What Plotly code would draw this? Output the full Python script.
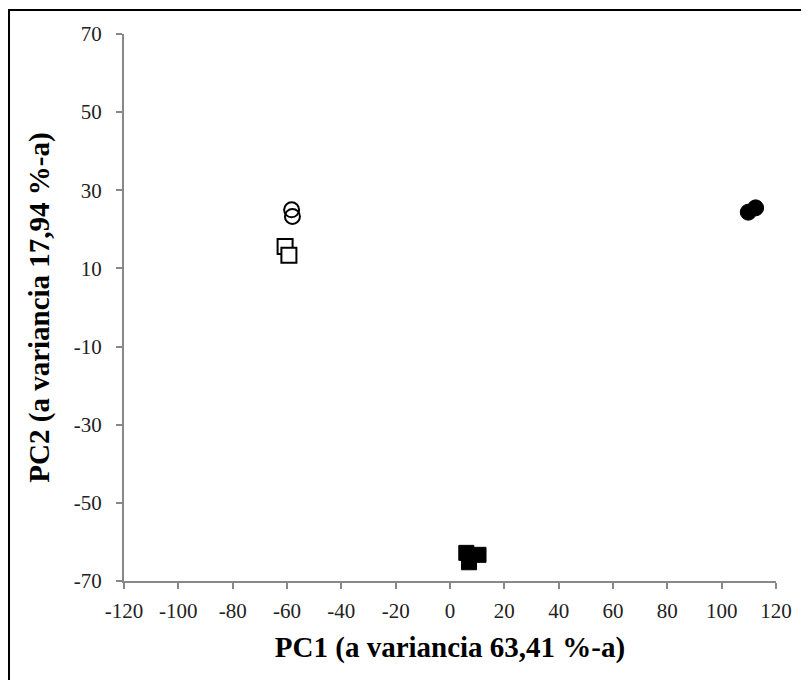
import plotly.graph_objects as go

# Data
open_circle_x = [-58.3, -58.0]
open_circle_y = [25.0, 23.3]
open_square_x = [-60.7, -59.3]
open_square_y = [15.6, 13.4]
filled_square_x = [6.0, 10.5, 7.0]
filled_square_y = [-62.8, -63.3, -65.2]
filled_circle_x = [109.8, 112.5]
filled_circle_y = [24.4, 25.5]

x_ticks = list(range(-120, 121, 20))
y_ticks = list(range(-70, 71, 20))

fig = go.Figure()
fig.add_trace(go.Scatter(x=open_circle_x, y=open_circle_y, mode="markers",
                         marker=dict(symbol="circle-open", size=15, color="black",
                                     line=dict(width=2, color="black"))))
fig.add_trace(go.Scatter(x=open_square_x, y=open_square_y, mode="markers",
                         marker=dict(symbol="square", size=15, color="white",
                                     line=dict(width=2, color="black"))))
fig.add_trace(go.Scatter(x=filled_square_x, y=filled_square_y, mode="markers",
                         marker=dict(symbol="square", size=15, color="black",
                                     line=dict(width=1, color="black"))))
fig.add_trace(go.Scatter(x=filled_circle_x, y=filled_circle_y, mode="markers",
                         marker=dict(symbol="circle", size=16, color="black",
                                     line=dict(width=1, color="black"))))

# page body has an 8px default margin, so offsets are compensated
L, T = 116, 26
W, H = 652, 547
font_family = "Liberation Serif"
fig.update_layout(
    width=809, height=680, autosize=False,
    margin=dict(l=L, r=809 - L - W, t=T, b=680 - T - H, pad=0, autoexpand=False),
    paper_bgcolor="white", plot_bgcolor="white",
    showlegend=False,
    font=dict(family=font_family, size=21, color="black"),
    xaxis=dict(range=[-120, 120], tickvals=x_ticks, ticktext=[str(v) for v in x_ticks],
               showgrid=False, zeroline=False, showline=True, linecolor="#888888",
               linewidth=2, ticks="outside", ticklen=6, tickwidth=2, tickcolor="#888888",
               tickfont=dict(size=21, family=font_family, color="#222222"), automargin=False,
               ticklabelstandoff=4,
               title=dict(text="<b>PC1 (a variancia 63,41 %-a)</b>",
                          font=dict(size=29, family=font_family), standoff=14)),
    yaxis=dict(range=[-70, 70], tickvals=y_ticks, ticktext=[str(v) for v in y_ticks],
               showgrid=False, zeroline=False, showline=True, linecolor="#888888",
               linewidth=2, ticks="outside", ticklen=6, tickwidth=2, tickcolor="#888888",
               tickfont=dict(size=21, family=font_family, color="#222222"), ticklabelstandoff=10,
               automargin=False,
               title=dict(text="<b>PC2 (a variancia 17,94 %-a)</b>",
                          font=dict(size=29, family=font_family), standoff=16)),
)

# Outer frame (left and top edges visible)
fig.add_shape(type="rect", xref="paper", yref="paper",
              x0=(1 - L) / W, x1=1 + 80 / W,
              y0=-(680 - T - H + 40) / H, y1=1 + (T - 2) / H,
              line=dict(color="black", width=2), layer="below")

fig.write_html("out.html")
